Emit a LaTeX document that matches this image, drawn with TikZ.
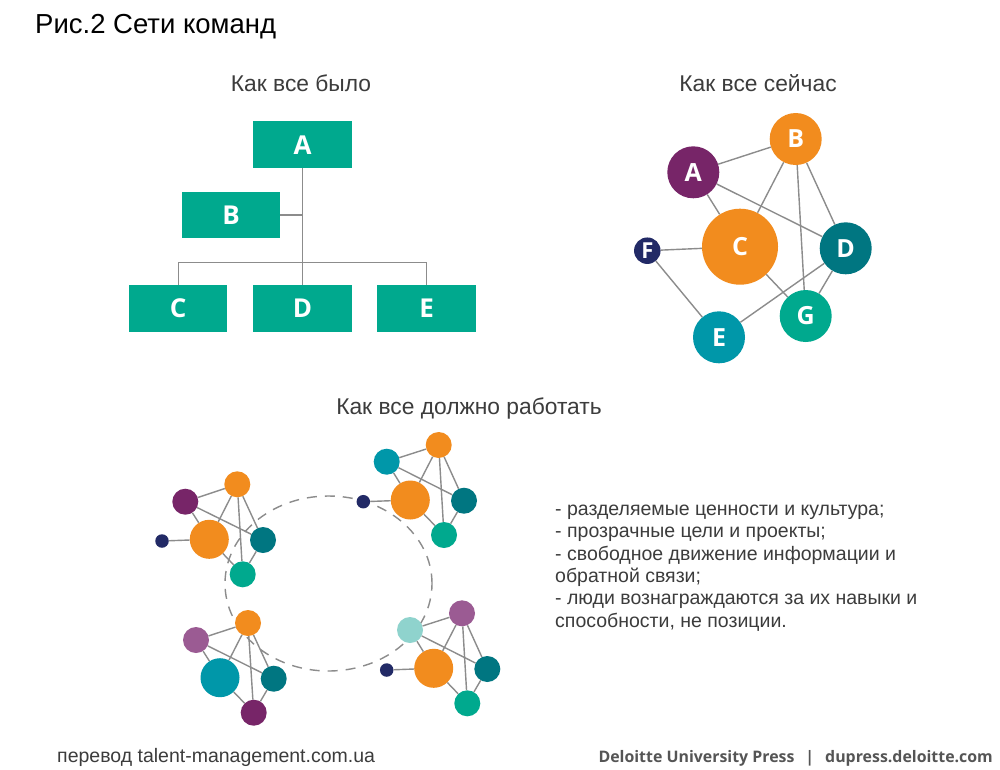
\documentclass[tikz,border=0pt]{standalone}
\usepackage{fontspec}
\setmainfont{Liberation Sans}
\newfontfamily\osans{Open Sans}
\definecolor{boxteal}{RGB}{0,169,142}
\definecolor{linegray}{RGB}{140,140,140}
\definecolor{headgray}{RGB}{60,60,60}
\definecolor{corange}{RGB}{242,140,30}
\definecolor{cpurple}{RGB}{119,37,104}
\definecolor{cnavy}{RGB}{34,42,102}
\definecolor{cdteal}{RGB}{0,118,129}
\definecolor{ctblue}{RGB}{0,151,169}
\definecolor{cgreen}{RGB}{0,169,142}
\definecolor{clpurple}{RGB}{155,91,147}
\definecolor{clteal}{RGB}{143,211,205}
\definecolor{footgray}{RGB}{85,85,85}
\begin{document}
\begin{tikzpicture}[x=1pt,y=-1pt,
  lbl/.style={font=\osans\bfseries\fontsize{26}{26}\selectfont, text=white},
  clbl/.style={font=\osans\bfseries\fontsize{25}{25}\selectfont, text=white},
  box/.style={lbl, fill=boxteal, minimum width=98.5pt, minimum height=46.5pt, inner sep=0pt},
  conn/.style={draw=linegray, line width=1.4pt},
  bub/.style={circle, inner sep=0pt, minimum size=#1},
  head/.style={font=\fontsize{22.8}{26}\selectfont, text=headgray, anchor=base, inner sep=0pt},
]
\useasboundingbox[fill=white] (0,0) rectangle (1000,769);

% title
\node[anchor=base west, inner sep=0pt, font=\fontsize{27.5}{32}\selectfont] (title) at (35,33) {Рис.2 Сети команд};

% headings
\node[head] (h1) at (301,91) {Как все было};
\node[head] (h2) at (758,91) {Как все сейчас};
\node[head] (h3) at (469,414) {Как все должно работать};

% ---- tree ----
\node[box] (tA) at (302.5,144.7) {A};
\node[box] (tB) at (231,214.8) {B};
\node[box] (tC) at (178.2,308.3) {C};
\node[box] (tD) at (302.5,308.3) {D};
\node[box] (tE) at (426.7,308.3) {E};
\coordinate (j1) at (302.5,262.3);
\draw[conn] (tA.south) -- (j1) -- (tD.north);
\draw[conn] (tB.east) -- (tB.east -| tA.south);
\draw[conn] (tC.north) |- (j1) -| (tE.north);

% ---- network now ----
\node[bub=52pt, fill=cpurple, clbl] (nA) at (693.3,172.3) {A};
\node[bub=52pt, fill=corange, clbl] (nB) at (795.7,139) {B};
\node[bub=76pt, fill=corange, clbl] (nC) at (740,246.7) {C};
\node[bub=52pt, fill=cdteal, clbl] (nD) at (845.7,248.3) {D};
\node[bub=26.5pt, fill=cnavy, font=\osans\bfseries\fontsize{22}{22}\selectfont, text=white] (nF) at (647.3,250.7) {F};
\node[bub=52pt, fill=ctblue, clbl] (nE) at (719,337.3) {E};
\node[bub=52pt, fill=cgreen, clbl] (nG) at (805.7,316) {G};
\foreach \a/\b in {nA/nB, nA/nC, nA/nD, nB/nC, nB/nG, nB/nD, nF/nC, nF/nE, nC/nG, nE/nD, nD/nG}
  \draw[conn] (\a) -- (\b);

% ---- dashed ring ----
\draw[draw=linegray, line width=1.4pt, dash pattern=on 10pt off 8pt] (328.5,583.5) ellipse [x radius=103.5pt, y radius=87.5pt];

% ---- cluster 1 ----
\node[bub=26pt, fill=cpurple] (pA) at (185.3,501.7) {};
\node[bub=26pt, fill=corange] (pB) at (237.3,484.3) {};
\node[bub=39pt, fill=corange] (pC) at (209.3,539.3) {};
\node[bub=26pt, fill=cdteal] (pD) at (263,540) {};
\node[bub=13.5pt, fill=cnavy] (pF) at (162,541) {};
\node[bub=26pt, fill=cgreen] (pG) at (242.7,574.3) {};
\foreach \a/\b in {pA/pB, pA/pC, pA/pD, pB/pC, pB/pG, pB/pD, pF/pC, pC/pG, pD/pG}
  \draw[conn] (\a) -- (\b);

% ---- cluster 2 ----
\node[bub=26pt, fill=ctblue] (qA) at (386.7,461.7) {};
\node[bub=26pt, fill=corange] (qB) at (438.7,445) {};
\node[bub=39pt, fill=corange] (qC) at (410.3,500) {};
\node[bub=26pt, fill=cdteal] (qD) at (464,500.7) {};
\node[bub=13.5pt, fill=cnavy] (qF) at (363.3,501.7) {};
\node[bub=26pt, fill=cgreen] (qG) at (444,535) {};
\foreach \a/\b in {qA/qB, qA/qC, qA/qD, qB/qC, qB/qG, qB/qD, qF/qC, qC/qG, qD/qG}
  \draw[conn] (\a) -- (\b);

% ---- cluster 3 ----
\node[bub=26pt, fill=clpurple] (rA) at (196,640) {};
\node[bub=26pt, fill=corange] (rB) at (248,623) {};
\node[bub=39pt, fill=ctblue] (rC) at (220,677.7) {};
\node[bub=26pt, fill=cdteal] (rD) at (273.7,678.7) {};
\node[bub=26pt, fill=cpurple] (rG) at (253.7,712.7) {};
\foreach \a/\b in {rA/rB, rA/rC, rA/rD, rB/rC, rB/rG, rB/rD, rC/rG, rD/rG}
  \draw[conn] (\a) -- (\b);

% ---- cluster 4 ----
\node[bub=26pt, fill=clteal] (sA) at (410,630) {};
\node[bub=26pt, fill=clpurple] (sB) at (462,613.3) {};
\node[bub=39pt, fill=corange] (sC) at (433.7,668.3) {};
\node[bub=26pt, fill=cdteal] (sD) at (487.3,669) {};
\node[bub=13.5pt, fill=cnavy] (sF) at (386.7,670) {};
\node[bub=26pt, fill=cgreen] (sG) at (467.3,703.3) {};
\foreach \a/\b in {sA/sB, sA/sC, sA/sD, sB/sC, sB/sG, sB/sD, sF/sC, sC/sG, sD/sG}
  \draw[conn] (\a) -- (\b);

% ---- bullet text ----
\node[anchor=base west, inner sep=0pt, align=left, text=headgray, font=\fontsize{19.5}{22.3}\selectfont] (txt) at (555,627)
 {- разделяемые ценности и культура;\\
  - прозрачные цели и проекты;\\
  - свободное движение информации и\\
  обратной связи;\\
  - люди вознаграждаются за их навыки и\\
  способности, не позиции.};

% ---- footer ----
\node[anchor=base west, inner sep=0pt, text=headgray, font=\fontsize{19.5}{22}\selectfont] (f1) at (57,762) {перевод talent-management.com.ua};
\node[anchor=base east, inner sep=0pt, text=footgray, font=\osans\bfseries\fontsize{15.9}{18}\selectfont] (f2) at (993,762) {Deloitte University Press\hspace{11pt}|\hspace{11pt}dupress.deloitte.com};
\end{tikzpicture}
\end{document}
